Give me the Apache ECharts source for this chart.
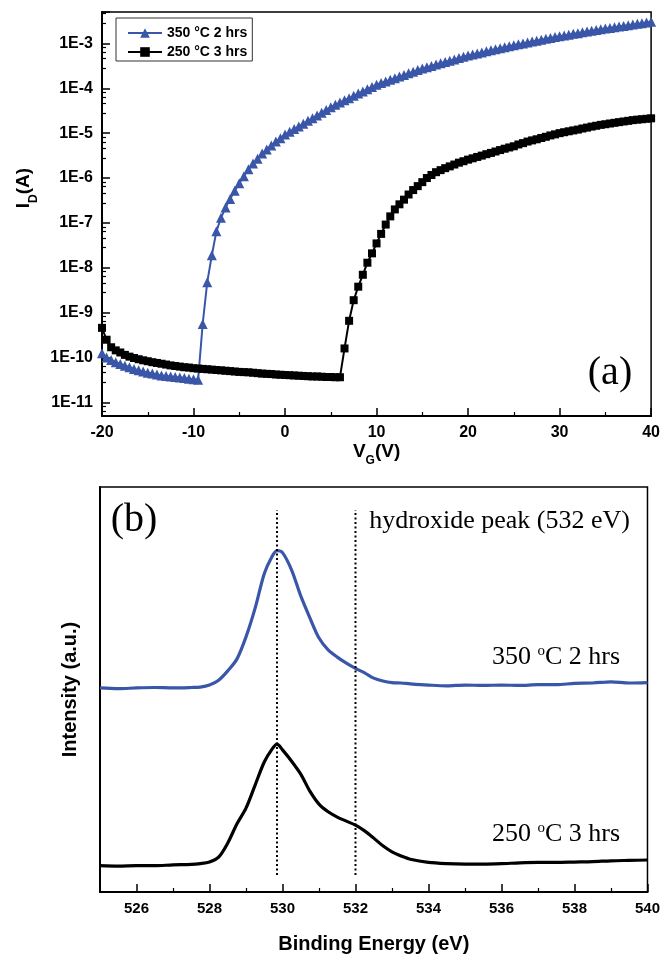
<!DOCTYPE html>
<html lang="en">
<head>
<meta charset="UTF-8">
<title>Transfer curves and O 1s spectra</title>
<script src="https://cdn.jsdelivr.net/npm/echarts@6.0.0/dist/echarts.min.js"></script>
<style>
  html, body { margin: 0; padding: 0; background: #fff; }
  #chart { width: 663px; height: 956px; }
</style>
</head>
<body>
<div id="chart"></div>
<script>
// (a) transfer curves: gate voltage (V) and drain current (A)
let vg = [-20,-19.5,-19,-18.5,-18,-17.5,-17,-16.5,-16,-15.5,-15,-14.5,-14,-13.5,-13,-12.5,-12,-11.5,-11,-10.5,
  -10,-9.5,-9,-8.5,-8,-7.5,-7,-6.5,-6,-5.5,-5,-4.5,-4,-3.5,-3,-2.5,-2,-1.5,-1,-0.5,
  0,0.5,1,1.5,2,2.5,3,3.5,4,4.5,5,5.5,6,6.5,7,7.5,8,8.5,9,9.5,
  10,10.5,11,11.5,12,12.5,13,13.5,14,14.5,15,15.5,16,16.5,17,17.5,18,18.5,19,19.5,
  20,20.5,21,21.5,22,22.5,23,23.5,24,24.5,25,25.5,26,26.5,27,27.5,28,28.5,29,29.5,
  30,30.5,31,31.5,32,32.5,33,33.5,34,34.5,35,35.5,36,36.5,37,37.5,38,38.5,39,39.5,40];

let id350 = [1.25e-10,1.0e-10,8.8e-11,7.9e-11,7.2e-11,6.6e-11,6.1e-11,5.6e-11,5.2e-11,4.9e-11,
  4.6e-11,4.4e-11,4.2e-11,4.0e-11,3.9e-11,3.8e-11,3.7e-11,3.6e-11,3.5e-11,3.4e-11,
  3.3e-11,3.2e-11,5.6e-10,4.8e-9,1.9e-8,6.5e-8,1.3e-7,2.2e-7,3.4e-7,5.2e-7,
  7.7e-7,1.1e-6,1.56e-6,2.1e-6,2.7e-6,3.5e-6,4.3e-6,5.3e-6,6.5e-6,7.7e-6,
  9.3e-6,1.07e-5,1.23e-5,1.41e-5,1.62e-5,1.88e-5,2.16e-5,2.48e-5,2.85e-5,3.3e-5,
  3.8e-5,4.3e-5,4.8e-5,5.4e-5,6.0e-5,6.8e-5,7.6e-5,8.5e-5,9.5e-5,1.07e-4,
  1.2e-4,1.31e-4,1.42e-4,1.54e-4,1.67e-4,1.82e-4,1.98e-4,2.15e-4,2.33e-4,2.54e-4,
  2.75e-4,2.94e-4,3.15e-4,3.37e-4,3.6e-4,3.85e-4,4.11e-4,4.4e-4,4.7e-4,5.02e-4,
  5.37e-4,5.66e-4,5.97e-4,6.3e-4,6.64e-4,7.0e-4,7.38e-4,7.78e-4,8.2e-4,8.65e-4,
  9.12e-4,9.55e-4,1.0e-3,1.05e-3,1.1e-3,1.15e-3,1.2e-3,1.26e-3,1.32e-3,1.38e-3,
  1.45e-3,1.5e-3,1.56e-3,1.63e-3,1.69e-3,1.76e-3,1.83e-3,1.9e-3,1.98e-3,2.06e-3,
  2.14e-3,2.21e-3,2.29e-3,2.37e-3,2.45e-3,2.54e-3,2.63e-3,2.72e-3,2.82e-3,2.92e-3,3.02e-3];

let id250 = [4.6e-10,2.5e-10,1.7e-10,1.45e-10,1.3e-10,1.15e-10,1.05e-10,9.8e-11,9.2e-11,8.7e-11,
  8.3e-11,7.9e-11,7.6e-11,7.3e-11,7.0e-11,6.7e-11,6.5e-11,6.3e-11,6.1e-11,6.0e-11,
  5.8e-11,5.7e-11,5.6e-11,5.5e-11,5.4e-11,5.3e-11,5.2e-11,5.1e-11,5.0e-11,4.9e-11,
  4.8e-11,4.75e-11,4.7e-11,4.6e-11,4.5e-11,4.4e-11,4.35e-11,4.3e-11,4.2e-11,4.15e-11,
  4.1e-11,4.05e-11,4.0e-11,3.95e-11,3.9e-11,3.85e-11,3.8e-11,3.8e-11,3.75e-11,3.7e-11,
  3.7e-11,3.65e-11,3.65e-11,1.6e-10,6.6e-10,1.9e-9,3.8e-9,7.0e-9,1.3e-8,2.1e-8,
  3.5e-8,5.7e-8,9.2e-8,1.4e-7,2.0e-7,2.6e-7,3.3e-7,4.3e-7,5.4e-7,6.6e-7,
  8.1e-7,1.0e-6,1.17e-6,1.35e-6,1.5e-6,1.66e-6,1.82e-6,2.0e-6,2.2e-6,2.37e-6,
  2.57e-6,2.75e-6,2.95e-6,3.16e-6,3.4e-6,3.63e-6,3.9e-6,4.2e-6,4.5e-6,4.8e-6,
  5.1e-6,5.6e-6,6.0e-6,6.5e-6,6.9e-6,7.3e-6,7.8e-6,8.3e-6,8.9e-6,9.4e-6,
  1.0e-5,1.05e-5,1.1e-5,1.15e-5,1.2e-5,1.27e-5,1.33e-5,1.4e-5,1.46e-5,1.53e-5,
  1.58e-5,1.64e-5,1.7e-5,1.76e-5,1.82e-5,1.88e-5,1.95e-5,2.0e-5,2.04e-5,2.09e-5,2.14e-5];

// (b) O 1s spectra: binding energy (eV) and intensity (a.u., offset)
let energy = [525,525.5,526,526.5,527,527.5,527.75,528,528.25,528.5,528.75,529,529.25,529.5,529.7,529.85,
  530,530.25,530.5,530.75,531,531.25,531.5,531.75,532,532.25,532.5,532.75,533,533.25,533.5,
  534,534.5,535,535.5,536,536.5,537,537.5,538,538.5,539,539.5,540];
let xps350 = [50.4,50.2,50.4,50.5,50.4,50.5,50.6,51.1,52.3,54.6,57.5,63.0,70.1,78.6,82.6,84.3,
  83.8,79.5,73.1,67.7,62.7,59.8,58.0,56.5,55.2,54.1,52.8,52.1,51.7,51.6,51.4,
  51.1,50.9,51.1,51.0,51.1,51.0,51.2,51.2,51.5,51.6,51.9,51.6,51.7];
let xps250 = [6.5,6.4,6.5,6.5,6.7,6.8,7.0,7.4,8.6,12.1,16.8,20.7,26.4,32.1,35.1,36.5,
  35.1,32.3,29.1,24.9,21.7,19.8,18.5,17.5,16.5,15.1,13.3,11.4,9.9,8.9,8.1,
  7.3,7.0,6.9,6.9,7.0,7.2,7.3,7.3,7.4,7.5,7.7,7.8,7.9];
let peakEnergies = [529.85, 532];
let peakLineSpan = [4.2, 94.3];

let names = ['350 °C 2 hrs', '250 °C 3 hrs'];

const blue = '#3a56a8';
const sans = '"Liberation Sans", Arial, sans-serif';
const serif = '"Liberation Serif", "Times New Roman", serif';

function pairs(xs, ys) {
  return xs.map((x, i) => [x, ys[i]]);
}

const chart = echarts.init(document.getElementById('chart'));

const axisBase = {
  axisLine: { onZero: false, lineStyle: { color: '#000', width: 2 } },
  axisTick: { inside: true, length: 8, lineStyle: { color: '#000', width: 1.5 } },
  minorTick: { show: true, splitNumber: 2, length: 4, lineStyle: { color: '#000', width: 1.2 } },
  splitLine: { show: false },
  minorSplitLine: { show: false },
  nameLocation: 'middle'
};

const subRich = {
  m: { fontSize: 19, fontWeight: 'bold', fontFamily: sans, color: '#000', verticalAlign: 'top', lineHeight: 19 },
  sub: { fontSize: 12, fontWeight: 'bold', fontFamily: sans, color: '#000', verticalAlign: 'bottom', lineHeight: 25 }
};

let series = [
  {
    name: names[0], type: 'line', xAxisIndex: 0, yAxisIndex: 0,
    data: pairs(vg, id350),
    symbol: 'triangle', symbolSize: 10, showAllSymbol: true,
    itemStyle: { color: blue },
    lineStyle: { color: blue, width: 2 }
  },
  {
    name: names[1], type: 'line', xAxisIndex: 0, yAxisIndex: 0,
    data: pairs(vg, id250),
    symbol: 'rect', symbolSize: 8, showAllSymbol: true,
    itemStyle: { color: '#000' },
    lineStyle: { color: '#000', width: 2 }
  },
  {
    name: 'O1s 350', type: 'line', xAxisIndex: 1, yAxisIndex: 1,
    data: pairs(energy, xps350), symbol: 'none', smooth: 0.3,
    lineStyle: { color: blue, width: 3.2 }
  },
  {
    name: 'O1s 250', type: 'line', xAxisIndex: 1, yAxisIndex: 1,
    data: pairs(energy, xps250), symbol: 'none', smooth: 0.3,
    lineStyle: { color: '#000', width: 3.2 }
  }
];

peakEnergies.forEach((e, i) => {
  series.push({
    name: 'peak' + i, type: 'line', xAxisIndex: 1, yAxisIndex: 1,
    data: [[e, peakLineSpan[0]], [e, peakLineSpan[1]]],
    symbol: 'none', silent: true,
    lineStyle: { color: '#000', width: 2, type: [2, 2.5] }
  });
});

chart.setOption({
  animation: false,
  backgroundColor: '#fff',
  grid: [
    { left: 102, top: 12, width: 551, height: 404, show: true, borderColor: '#000', borderWidth: 1.5 },
    { left: 100, top: 487, width: 552, height: 405, show: true, borderColor: '#000', borderWidth: 1.5 }
  ],
  legend: {
    data: names,
    left: 116, top: 18,
    orient: 'vertical',
    itemWidth: 34, itemHeight: 12, itemGap: 5,
    padding: [8, 5, 2, 11],
    borderColor: '#333', borderWidth: 1,
    textStyle: { fontFamily: sans, fontWeight: 'bold', fontSize: 14, color: '#000' }
  },
  xAxis: [
    Object.assign({}, axisBase, {
      type: 'value', gridIndex: 0, min: -20, max: 40, interval: 10,
      axisLabel: { fontFamily: sans, fontWeight: 'bold', fontSize: 16, color: '#000', margin: 9 },
      name: '{m|V}{sub|G}{m|(V)}', nameGap: 21,
      nameTextStyle: { rich: subRich }
    }),
    Object.assign({}, axisBase, {
      type: 'value', gridIndex: 1, min: 525, max: 540, splitNumber: 7,
      axisLabel: { fontFamily: sans, fontWeight: 'bold', fontSize: 15, color: '#000', margin: 9, showMinLabel: false },
      name: 'Binding Energy (eV)', nameGap: 42,
      nameTextStyle: { fontFamily: sans, fontWeight: 'bold', fontSize: 20, color: '#000' }
    })
  ],
  yAxis: [
    Object.assign({}, axisBase, {
      type: 'log', logBase: 10, gridIndex: 0, min: 5e-12, max: 5e-3,
      minorTick: { show: true, splitNumber: 5, length: 4, lineStyle: { color: '#000', width: 1.2 } },
      axisLabel: {
        fontFamily: sans, fontWeight: 'bold', fontSize: 16, color: '#000', margin: 9,
        showMinLabel: false, showMaxLabel: false,
        formatter: v => '1E' + Math.round(Math.log10(v))
      },
      name: '{m|I}{sub|D}{m|(A)}', nameGap: 61,
      nameTextStyle: { rich: subRich, padding: [0, 0, 0, 52] }
    }),
    Object.assign({}, axisBase, {
      type: 'value', gridIndex: 1, min: 0, max: 100,
      axisTick: { show: false }, minorTick: { show: false },
      axisLabel: { show: false },
      name: 'Intensity (a.u.)', nameGap: 20,
      nameTextStyle: { fontFamily: sans, fontWeight: 'bold', fontSize: 20, color: '#000' }
    })
  ],
  series: series,
  graphic: [
    { type: 'text', x: 610, y: 373, style: { text: '(a)', fontFamily: serif, fontSize: 40, fill: '#000', textAlign: 'center', textVerticalAlign: 'middle' } },
    { type: 'text', x: 134, y: 520, style: { text: '(b)', fontFamily: serif, fontSize: 40, fill: '#000', textAlign: 'center', textVerticalAlign: 'middle' } },
    { type: 'text', x: 630, y: 521, style: { text: 'hydroxide peak (532 eV)', fontFamily: serif, fontSize: 26, fill: '#000', textAlign: 'right', textVerticalAlign: 'middle' } },
    { type: 'text', x: 620, y: 657, style: { text: '350 {sup|o}C 2 hrs', fontFamily: serif, fontSize: 26, fill: '#000', textAlign: 'right', textVerticalAlign: 'middle',
      rich: { sup: { fontFamily: serif, fontSize: 15, verticalAlign: 'top' } } } },
    { type: 'text', x: 620, y: 834, style: { text: '250 {sup|o}C 3 hrs', fontFamily: serif, fontSize: 26, fill: '#000', textAlign: 'right', textVerticalAlign: 'middle',
      rich: { sup: { fontFamily: serif, fontSize: 15, verticalAlign: 'top' } } } }
  ]
});
</script>
</body>
</html>
